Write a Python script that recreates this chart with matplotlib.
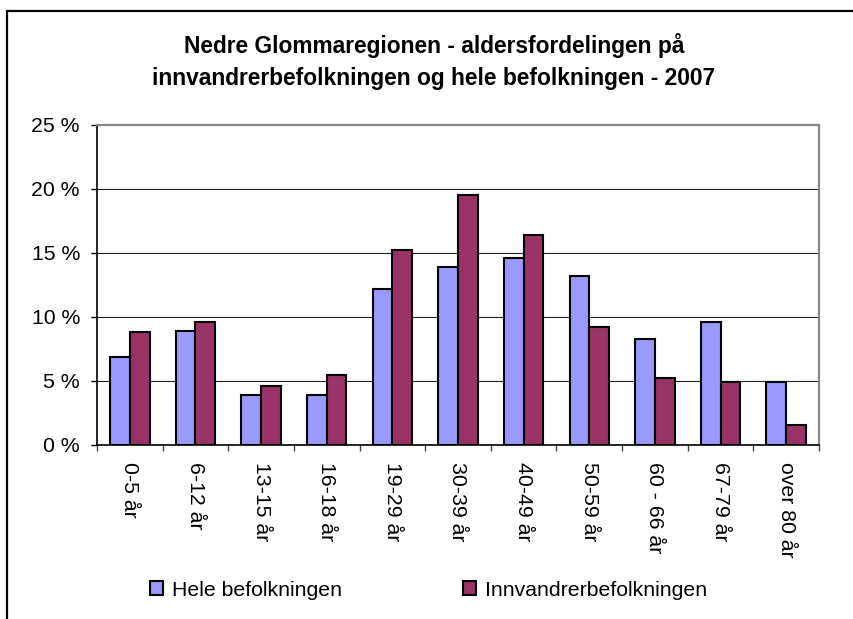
import matplotlib
matplotlib.use("Agg")
import matplotlib.pyplot as plt
import numpy as np
from matplotlib.patches import Rectangle, Patch
from matplotlib.ticker import FixedLocator, FuncFormatter

plt.rcParams['font.family'] = ['Liberation Sans', 'DejaVu Sans']

categories = ["0-5 år", "6-12 år", "13-15 år", "16-18 år", "19-29 år", "30-39 år",
              "40-49 år", "50-59 år", "60 - 66 år", "67-79 år", "over 80 år"]
hele = [6.9, 8.9, 3.9, 3.9, 12.2, 13.9, 14.6, 13.2, 8.3, 9.6, 4.9]
innv = [8.8, 9.6, 4.6, 5.5, 15.2, 19.5, 16.4, 9.2, 5.2, 4.9, 1.6]
series_names = ["Hele befolkningen", "Innvandrerbefolkningen"]
title = "Nedre Glommaregionen - aldersfordelingen på\ninnvandrerbefolkningen og hele befolkningen - 2007"
yticks = [0, 5, 10, 15, 20, 25]

W, H = 854, 619
fs = 15.3
fig = plt.figure(figsize=(W / 100, H / 100), dpi=100)
fig.patch.set_facecolor('white')

# outer frame (clipped at right/bottom)
fig.patches.append(Rectangle((7 / W, 1 - 900 / H), 1000 / W, (900 - 11) / H,
                             transform=fig.transFigure, fill=False,
                             edgecolor='black', linewidth=1.6, zorder=0))

ax = fig.add_axes([97 / W, 1 - 445 / H, (819 - 97) / W, (445 - 125) / H])

x = np.arange(len(categories)) + 0.5
bw = 0.3
c1, c2 = '#9999FF', '#993366'
ax.bar(x - bw / 2, hele, bw, color=c1, edgecolor='black', linewidth=1.5, zorder=3)
ax.bar(x + bw / 2, innv, bw, color=c2, edgecolor='black', linewidth=1.5, zorder=3)

ax.set_xlim(0, len(categories))
ax.set_ylim(0, 25)

ax.yaxis.set_major_locator(FixedLocator(yticks))
ax.yaxis.set_major_formatter(FuncFormatter(lambda v, p: f"{int(v)} %"))
for yv in yticks[1:-1]:
    ax.axhline(yv, color='#222222', linewidth=0.8, zorder=1)

ax.set_xticks(np.arange(len(categories) + 1))
ax.set_xticklabels([])
ax.set_xticks(x, minor=True)
ax.set_xticklabels(categories, minor=True, rotation=-90, ha='center', va='top')
ax.tick_params(axis='x', which='major', length=4.3, width=1, color='#444444', direction='out')
ax.tick_params(axis='x', which='minor', length=0, pad=12, labelsize=fs)
ax.tick_params(axis='y', length=4.3, width=1, direction='out', pad=8, labelsize=fs)

for s in ['top', 'right']:
    ax.spines[s].set_color('#888888')
    ax.spines[s].set_linewidth(1.6)
for s in ['left', 'bottom']:
    ax.spines[s].set_color('black')
    ax.spines[s].set_linewidth(1.2)

fig.text(434 / W, 1 - 61 / H, title, ha='center', va='center', fontsize=16.4,
         fontweight='bold', linespacing=1.5)

handles = [Patch(facecolor=c1, edgecolor='black', linewidth=1.5),
           Patch(facecolor=c2, edgecolor='black', linewidth=1.5)]
fig.legend(handles, series_names, ncol=2, loc='center left',
           bbox_to_anchor=(150 / W, 1 - 590 / H), frameon=False, fontsize=fs,
           handlelength=0.6, handleheight=0.6, handletextpad=0.42,
           columnspacing=5.73, borderpad=0, borderaxespad=0)

fig.savefig("out.png", dpi=100)
